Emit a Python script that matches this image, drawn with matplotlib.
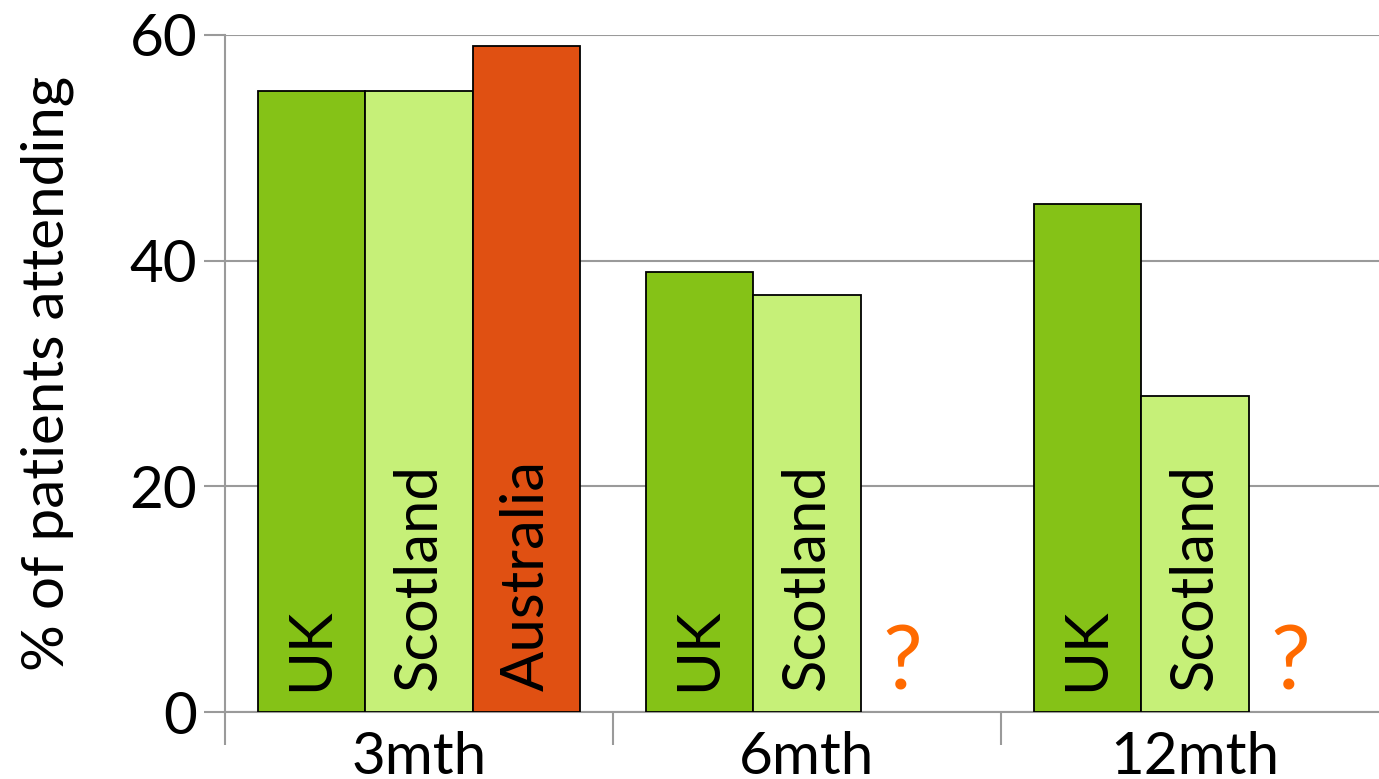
import numpy as np
import matplotlib.pyplot as plt

plt.rcParams['font.family'] = ['Lato', 'DejaVu Sans']

# attendance at follow-up, % of patients
periods = ["3mth", "6mth", "12mth"]
uk = [55, 39, 45]
scotland = [55, 37, 28]
australia = [59]          # only reported at 3 months
unknown_at = [1, 2]       # periods with no Australian figure

c_uk = "#85c217"
c_scot = "#c6f078"
c_aus = "#e05012"
c_q = "#ff6a00"
grid_c = "#9a9a9a"

fig = plt.figure(figsize=(13.79, 7.79), dpi=100)
ax = fig.add_axes([225 / 1379, 67 / 779, 1154 / 1379, 677 / 779])

x = np.arange(len(periods))
w = 0.277

ax.bar(x - w, uk, w, color=c_uk, edgecolor="black", linewidth=1.3, zorder=3)
ax.bar(x, scotland, w, color=c_scot, edgecolor="black", linewidth=1.3, zorder=3)
ax.bar(x[:len(australia)] + w, australia, w, color=c_aus, edgecolor="black",
       linewidth=1.3, zorder=3)

lab_kw = dict(rotation=90, ha="center", va="bottom", fontsize=43, zorder=4)
for i in x:
    ax.text(i - w, 1.9, "UK", **lab_kw)
    ax.text(i, 1.9, "Scotland", **lab_kw)
for i in range(len(australia)):
    ax.text(i + w, 1.9, "Australia", **lab_kw)
for i in unknown_at:
    ax.text(i + 0.245, 0.6, "?", color=c_q, fontsize=64, ha="center",
            va="bottom", zorder=4)

ax.set_ylim(0, 60)
ax.set_xlim(-0.5, -0.5 + 1154 / 388)
ax.set_yticks([0, 20, 40, 60])
ax.yaxis.grid(True, color=grid_c, linewidth=1.5, zorder=0)
ax.tick_params(axis="y", labelsize=42, length=15, width=1.5, color=grid_c,
               pad=5)

ax.set_xticks(x)
ax.set_xticklabels(periods)
ax.set_xticks([-0.5, 0.5, 1.5], minor=True)
ax.tick_params(axis="x", which="major", length=0, labelsize=42, pad=14)
ax.tick_params(axis="x", which="minor", length=24, width=1.5, color=grid_c)

for s in ["top", "right"]:
    ax.spines[s].set_visible(False)
for s in ["left", "bottom"]:
    ax.spines[s].set_color(grid_c)
    ax.spines[s].set_linewidth(1.5)

ax.set_ylabel("% of patients attending", fontsize=42, labelpad=40)

fig.savefig("out.png", dpi=100)
